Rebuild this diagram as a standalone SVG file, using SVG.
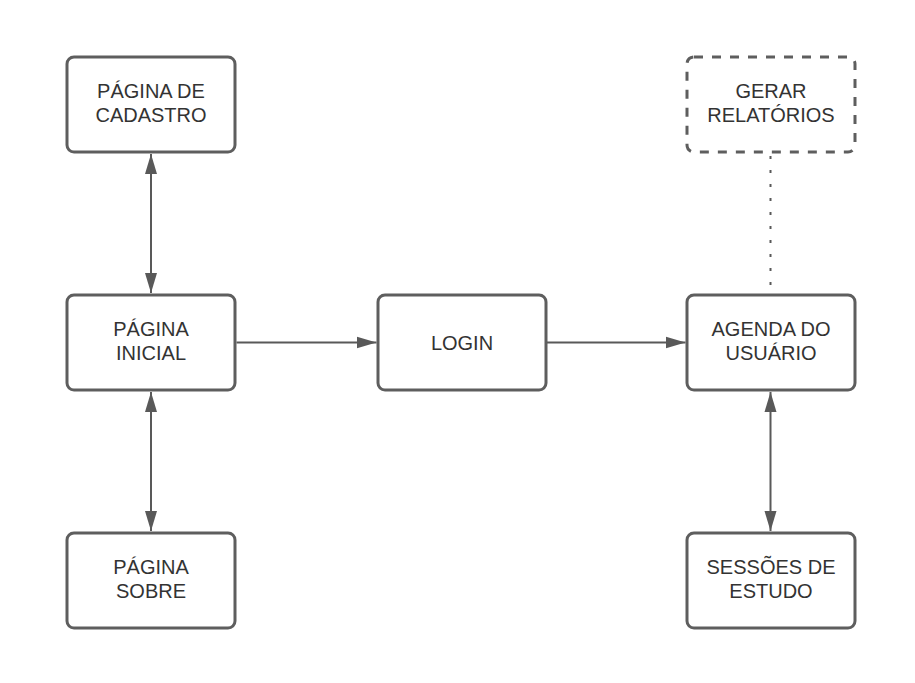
<svg xmlns="http://www.w3.org/2000/svg" width="915" height="683" viewBox="0 0 915 683">
<style>
.box{fill:#ffffff;stroke:#5e5e5e;stroke-width:3}
.dash{fill:#ffffff;stroke:#5e5e5e;stroke-width:3;stroke-dasharray:9 9}
.t{font-family:"Liberation Sans",Arial,sans-serif;font-size:20px;fill:#333333;text-anchor:middle}
.c{stroke:#595959;stroke-width:2;fill:none}
.dot{stroke:#595959;stroke-width:2;fill:none;stroke-dasharray:3 11}
</style>
<defs>
<marker id="ah" markerUnits="userSpaceOnUse" markerWidth="21" markerHeight="13" viewBox="0 0 21 13" refX="20" refY="6.5" orient="auto-start-reverse">
<path d="M0,0.5 L20,6.5 L0,12.5 z" fill="#595959"/>
</marker>
</defs>
<rect width="915" height="683" fill="#ffffff"/>
<g id="connectors">
<line class="c" x1="151" y1="154" x2="151" y2="293" marker-start="url(#ah)" marker-end="url(#ah)"/>
<line class="c" x1="151" y1="392" x2="151" y2="531" marker-start="url(#ah)" marker-end="url(#ah)"/>
<line class="c" x1="236.5" y1="342.5" x2="376.5" y2="342.5" marker-end="url(#ah)"/>
<line class="c" x1="546" y1="342.5" x2="685.5" y2="342.5" marker-end="url(#ah)"/>
<line class="c" x1="770.5" y1="392" x2="770.5" y2="531" marker-start="url(#ah)" marker-end="url(#ah)"/>
<line class="dot" x1="770.5" y1="156" x2="770.5" y2="293.5"/>
</g>
<g id="cadastro">
<rect class="box" x="67" y="57" width="168" height="95" rx="7"/>
<text class="t" x="151" y="98">PÁGINA DE</text>
<text class="t" x="151" y="122">CADASTRO</text>
</g>
<g id="relatorios">
<rect class="dash" x="687" y="57" width="168" height="95" rx="7"/>
<text class="t" x="771" y="98">GERAR</text>
<text class="t" x="771" y="122">RELATÓRIOS</text>
</g>
<g id="inicial">
<rect class="box" x="67" y="295" width="168" height="95" rx="7"/>
<text class="t" x="151" y="336">PÁGINA</text>
<text class="t" x="151" y="360">INICIAL</text>
</g>
<g id="login">
<rect class="box" x="378" y="295" width="168" height="95" rx="7"/>
<text class="t" x="462" y="349.5">LOGIN</text>
</g>
<g id="agenda">
<rect class="box" x="687" y="295" width="168" height="95" rx="7"/>
<text class="t" x="771" y="336">AGENDA DO</text>
<text class="t" x="771" y="360">USUÁRIO</text>
</g>
<g id="sobre">
<rect class="box" x="67" y="533" width="168" height="95" rx="7"/>
<text class="t" x="151" y="574">PÁGINA</text>
<text class="t" x="151" y="598">SOBRE</text>
</g>
<g id="sessoes">
<rect class="box" x="687" y="533" width="168" height="95" rx="7"/>
<text class="t" x="771" y="574">SESSÕES DE</text>
<text class="t" x="771" y="598">ESTUDO</text>
</g>
</svg>
